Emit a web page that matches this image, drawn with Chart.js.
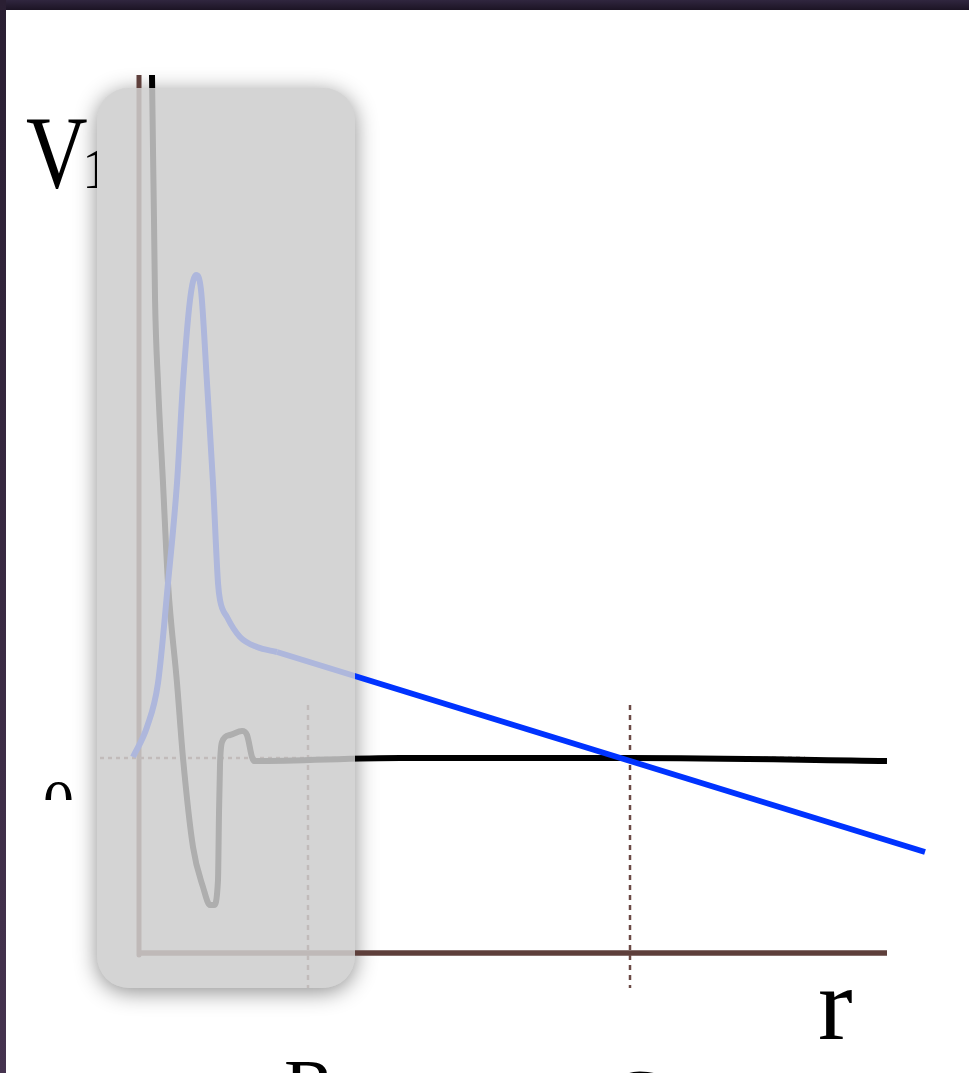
<!DOCTYPE html>
<html>
<head>
<meta charset="utf-8">
<script src="https://cdn.jsdelivr.net/npm/chart.js@4/dist/chart.umd.min.js"></script>
<style>
    html, body {
        margin: 0;
        padding: 0;
        width: 969px;
        height: 1073px;
        overflow: hidden;
        background: #ffffff;
        font-family: "Liberation Serif", "DejaVu Serif", serif;
    }
    #frameTop {
        position: absolute; left: 0; top: 0; width: 969px; height: 10px;
        background: linear-gradient(#30263f, #1c1424);
    }
    #frameLeft {
        position: absolute; left: 0; top: 0; width: 6px; height: 1073px;
        background: linear-gradient(#2a1f33, #45334f);
    }
    .lbl { position: absolute; color: #000; line-height: 1; white-space: nowrap; }
    #wrap { position: absolute; left: 0; top: 0; width: 969px; height: 1073px; }
</style>
</head>
<body>
<div id="frameTop"></div>
<div id="frameLeft"></div>

<div class="lbl" style="left:26px; top:100px; font-size:104px;">
    <span style="display:inline-block; transform:scaleX(0.82); transform-origin:left;">V</span><span style="font-size:58px; position:absolute; left:56px; top:40px;">1</span>
</div>
<div class="lbl" style="left:40px; top:782px; width:34px; height:18px; overflow:hidden;">
    <span style="font-size:62px; position:absolute; left:3px; top:-12px;">0</span>
</div>
<div class="lbl" style="left:818px; top:952px; font-size:104px;">r</div>
<div class="lbl" style="left:284px; top:1048px; font-size:78px;">R</div>
<div class="lbl" style="left:610px; top:1058px; font-size:78px;">C</div>

<div id="wrap"><canvas id="potChart" width="969" height="1073"></canvas></div>

<script>
// ==========================================
// DATA (r and V in plot units)
// ==========================================

const potR = [0.115, 0.12, 0.13, 0.14, 0.15, 0.18, 0.23, 0.28, 0.37, 0.43, 0.53, 0.63, 0.70, 0.74,
              0.78, 0.79, 0.80, 0.82, 0.90, 1.02, 1.07, 1.12, 1.14, 2.60, 4.90, 7.47];
const potV = [7.20, 6.83, 6.08, 5.38, 4.61, 3.75, 2.75, 1.75, 0.75, 0.00, -0.89, -1.29, -1.47, -1.47,
              -1.22, -0.55, -0.07, 0.16, 0.23, 0.27, 0.23, 0.01, -0.03, 0.00, 0.00, -0.03];

const peakR = [-0.07, 0.07, 0.18, 0.28, 0.37, 0.43, 0.50, 0.56, 0.61, 0.67, 0.73, 0.78,
               0.80, 0.87, 1.00, 1.17, 1.37];
const peakV = [0.01, 0.31, 0.75, 1.75, 2.75, 3.75, 4.58, 4.83, 4.68, 3.75, 2.75, 1.75,
               1.58, 1.41, 1.21, 1.11, 1.06];

const slopeR = [1.37, 7.85];
const slopeV = [1.06, -0.94];

const axisXR = [-0.02, 7.47];
const axisXV = [-1.95, -1.95];
const axisYR = [-0.01, -0.01];
const axisYV = [6.83, -1.97];

const zeroR = [-0.40, 6.65];
const zeroV = [0, 0];

const markR = 1.68;   // R
const markC = 4.90;   // C
const markV = [0.53, -2.30];

// ==========================================
// HELPERS
// ==========================================

function pts(xs, ys) {
    return xs.map((x, i) => ({ x: x, y: ys[i] }));
}

const brown = '#5e3f3b';
const dotted = '#6b4a45';

// grey rounded box laid over the inner region
const boxR = [-0.43, 2.15];
const boxV = [6.70, -2.30];

function boxPath(ctx, chart) {
    const xs = chart.scales.x, ys = chart.scales.y;
    const x0 = xs.getPixelForValue(boxR[0]);
    const x1 = xs.getPixelForValue(boxR[1]);
    const y0 = ys.getPixelForValue(boxV[0]);
    const y1 = ys.getPixelForValue(boxV[1]);
    ctx.beginPath();
    ctx.roundRect(x0, y0, x1 - x0, y1 - y0, 32);
}

const overlayBox = {
    id: 'overlayBox',
    beforeDatasetsDraw(chart) {
        const ctx = chart.ctx;
        ctx.save();
        ctx.shadowColor = 'rgba(0,0,0,0.45)';
        ctx.shadowBlur = 22;
        ctx.shadowOffsetY = 4;
        boxPath(ctx, chart);
        ctx.fillStyle = '#d4d4d4';
        ctx.fill();
        ctx.restore();
    },
    afterDatasetsDraw(chart) {
        const ctx = chart.ctx;
        ctx.save();
        boxPath(ctx, chart);
        ctx.fillStyle = 'rgba(212,212,212,0.82)';
        ctx.fill();
        ctx.restore();
    }
};

// ==========================================
// CHART
// ==========================================

new Chart(document.getElementById('potChart'), {

    type: 'line',

    data: {
        datasets: [
            {
                data: pts(slopeR, slopeV),
                borderColor: '#0033ff',
                borderWidth: 6,
                tension: 0,
                order: 1
            },
            {
                data: pts(peakR, peakV),
                borderColor: '#0033ff',
                borderWidth: 6,
                cubicInterpolationMode: 'monotone',
                order: 2
            },
            {
                data: pts(potR, potV),
                borderColor: '#000000',
                borderWidth: 6,
                cubicInterpolationMode: 'monotone',
                order: 3
            },
            {
                data: pts(zeroR, zeroV),
                borderColor: dotted,
                borderWidth: 2.5,
                borderDash: [4, 4],
                order: 4
            },
            {
                data: pts([markR, markR], markV),
                borderColor: dotted,
                borderWidth: 2.5,
                borderDash: [5, 5],
                order: 5
            },
            {
                data: pts([markC, markC], markV),
                borderColor: dotted,
                borderWidth: 2.5,
                borderDash: [5, 5],
                order: 6
            },
            {
                data: pts(axisXR, axisXV),
                borderColor: brown,
                borderWidth: 5.5,
                order: 7
            },
            {
                data: pts(axisYR, axisYV),
                borderColor: brown,
                borderWidth: 5,
                order: 8
            }
        ]
    },

    options: {

        responsive: false,

        animation: false,

        layout: {
            padding: { left: 100, right: 29, top: 75, bottom: 78 }
        },

        elements: {
            point: { radius: 0 },
            line: { fill: false, borderCapStyle: 'butt', borderJoinStyle: 'round' }
        },

        plugins: {
            legend: { display: false },
            tooltip: { enabled: false }
        },

        scales: {
            x: {
                type: 'linear',
                min: -0.4,
                max: 8.0,
                display: false
            },
            y: {
                type: 'linear',
                min: -2.37,
                max: 6.83,
                display: false
            }
        }
    },

    plugins: [overlayBox]
});
</script>
</body>
</html>
